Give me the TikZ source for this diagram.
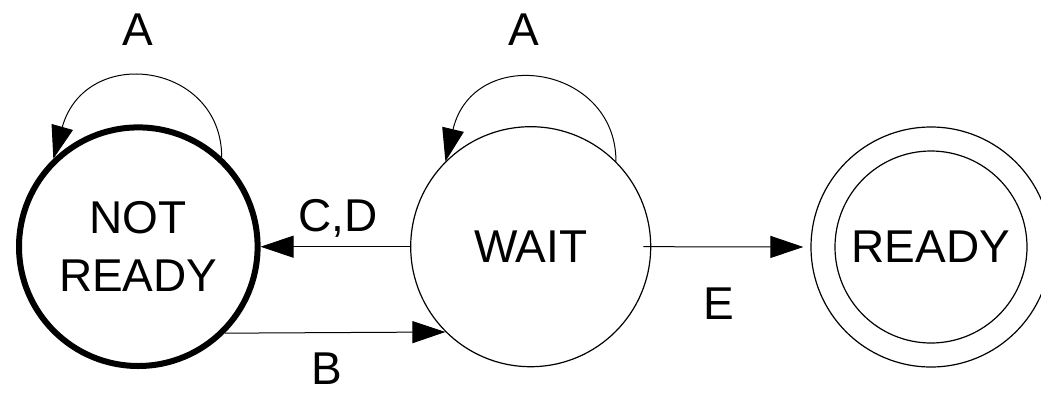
\documentclass[tikz,border=0pt]{standalone}
\usepackage{fontspec}
\setmainfont{Liberation Sans}
\usetikzlibrary{arrows.meta}
\begin{document}
\begin{tikzpicture}[x=1pt,y=1pt,
  state/.style={circle,draw,line width=1.2pt,inner sep=0pt,minimum size=240pt,
    font=\fontsize{46}{58}\selectfont,align=center},
  lbl/.style={font=\fontsize{46}{58}\selectfont,anchor=base,inner sep=0pt},
  arr/.style={line width=1pt,-{Triangle[length=33pt,width=22pt]}}
]
\useasboundingbox (0,0) rectangle (1041,-397);
\node[state,line width=6pt,minimum size=238.6pt] (NR) at (138.3,-246.7) {NOT\\READY};
\node[state] (W) at (530.7,-246.7) {WAIT};
\node[state] (R) at (931,-247) {READY};
\draw[line width=1.2pt] (R.center) circle[radius=96];
% self loops
\draw[arr] (NR.47.7) .. controls +(0,95) and +(32.4,115.2) .. (NR.134);
\draw[arr] (W.45) .. controls +(0,97) and +(28,118) .. (W.135);
% transitions
\draw[arr] (W.west) -- (NR.east);
\draw[arr] (NR.-45) -- (W.-135);
\draw[arr,shorten >=7pt,shorten <=-8pt] (W.east) -- (R.west);
% labels
\node[lbl] (a1) at (138,-45) {A};
\node[lbl] (a2) at (524.3,-45.5) {A};
\node[lbl] (cd) at (338,-231.5) {C,D};
\node[lbl] (b) at (327,-384) {B};
\node[lbl] (e) at (719,-319.3) {E};
\end{tikzpicture}
\end{document}
